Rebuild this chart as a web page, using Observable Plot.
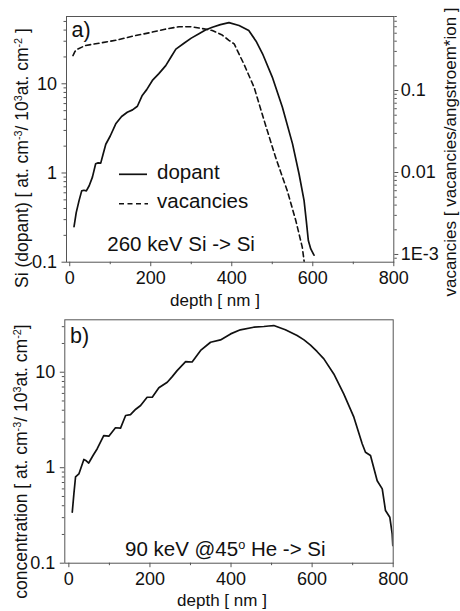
<!DOCTYPE html>
<html><head><meta charset="utf-8">
<script src="https://cdn.jsdelivr.net/npm/d3@7"></script>
<script src="https://cdn.jsdelivr.net/npm/@observablehq/plot@0.6"></script>
<style>
body{margin:0;background:#fff;}
#wrap{position:relative;width:460px;height:611px;overflow:hidden;background:#fff;}
#wrap svg{position:absolute;left:0;}
</style></head><body><div id="wrap"></div>
<script>
// ---- Panel a: 260 keV Si -> Si ----
const depthDopantA = [10.6,16,23,29.5,35,41,48,56,64,70,76.5,82,89,100,113.6,128,142,155,167,179,190,204,220,237,250,262,282,300,319,335,352,372,393,418,442,460,476,500,525,550,566,578.5,584,589,595,603];
const dopantA = [0.25,0.36,0.49,0.63,0.64,0.63,0.72,0.90,1.27,1.30,1.29,1.6,2.1,2.6,3.56,4.3,4.8,5.1,5.6,7.4,8.6,10.9,13,16,20,24.5,28.5,32.5,36.3,40,43,46,48.5,45,39.6,30,21.7,11.9,5.47,2.12,0.98,0.49,0.29,0.175,0.141,0.12];
const depthVacA = [8,13,19,39.5,75,113.6,155,196,235,270,300,319,352,375,393,406,430,455,480,508,537,558,574,579];
const vacanciesA = [0.267,0.30,0.32,0.355,0.38,0.41,0.46,0.506,0.56,0.60,0.60,0.58,0.54,0.48,0.41,0.37,0.21,0.11,0.043,0.0154,0.0060,0.0026,0.00123,0.0008];
// ---- Panel b: 90 keV @45o He -> Si ----
const depthB = [8.4,12.4,16.5,24.7,30,37,43,49,60,70,86,98.6,115,127.5,140,152,165,177,193,205.7,222,242.7,255,267,288,304,325,349.5,374,399,423,456,481,493,505.5,534,563,580,596,612,629,653.5,678,703,723.5,731.6,744,760.5,773,781,791.6,797.5,799];
const concB = [0.342,0.533,0.80,0.86,1.0,1.22,1.18,1.12,1.35,1.58,2.17,2.14,2.62,2.6,3.52,3.6,4.1,4.48,5.47,5.47,6.87,7.86,9.0,10.4,12.9,12.8,16.9,20.6,21.8,25.2,27.8,29.6,30.1,30.5,30.8,27.8,24.2,21.8,19.2,16.5,13.8,9.6,5.94,3.38,1.78,1.45,1.34,0.73,0.60,0.356,0.303,0.203,0.153];
// ---- ticks ----
const xTicks = [0,200,400,600,800];
const xMinorTicks = [100,300,500,700];
const leftTicks = [0.1,1,10];
const leftTickLabels = ["0.1","1","10"];
const rightTicks = [0.001,0.01,0.1];
const rightTickLabels = ["1E-3","0.01","0.1"];

const FRAME = "#555", INK = "#111";
const FONT = '"Liberation Sans", Arial, sans-serif';
const style = {fontFamily: FONT, fontSize: "18px", background: "transparent", overflow: "visible", color: INK};
const minorOf = (dom, majors) => d3.scaleLog().domain(dom).ticks().filter(t => !majors.some(m => Math.abs(m - t) < 1e-12));

const dopData = depthDopantA.map((d, i) => ({depth: d, v: dopantA[i]}));
const vacData = depthVacA.map((d, i) => ({depth: d, v: vacanciesA[i]}));
const bData = depthB.map((d, i) => ({depth: d, v: concB[i]}));

const yDomA = [0.1, 56.8], yDomR = [0.000805, 0.80], yDomB = [0.1, 35.4];

function xAxes() {
  return [
    Plot.axisX({ticks: xTicks, tickSize: 4.5, tickPadding: 5, stroke: FRAME, fill: INK, label: null}),
    Plot.axisX({ticks: xMinorTicks, tickSize: 2.5, stroke: FRAME, fill: "none", label: null})
  ];
}
function yLeftAxes(dom) {
  return [
    Plot.axisY({ticks: leftTicks, tickFormat: d => leftTickLabels[leftTicks.indexOf(d)], tickSize: 4.5, tickPadding: 5, stroke: FRAME, fill: INK, label: null}),
    Plot.axisY({ticks: minorOf(dom, leftTicks), tickSize: 2.5, stroke: FRAME, fill: "none", label: null})
  ];
}

const pa = Plot.plot({
  width: 460, height: 310,
  marginTop: 16, marginBottom: 48.3, marginLeft: 66, marginRight: 66.7,
  style,
  x: {domain: [-8, 800]},
  y: {type: "log", domain: yDomA},
  marks: [
    ...xAxes(),
    ...yLeftAxes(yDomA),
    Plot.line(dopData, {x: "depth", y: "v", stroke: INK, strokeWidth: 1.7, clip: true}),
    Plot.frame({stroke: FRAME})
  ]
});

const pa2 = Plot.plot({
  width: 460, height: 310,
  marginTop: 16, marginBottom: 48.3, marginLeft: 66, marginRight: 66.7,
  style,
  x: {domain: [-8, 800], axis: null},
  y: {type: "log", domain: yDomR},
  marks: [
    Plot.axisY({anchor: "right", ticks: rightTicks, tickFormat: d => rightTickLabels[rightTicks.indexOf(d)], tickSize: 4, tickPadding: 3, stroke: FRAME, fill: INK, label: null}),
    Plot.axisY({anchor: "right", ticks: minorOf(yDomR, rightTicks), tickSize: 2.5, stroke: FRAME, fill: "none", label: null}),
    Plot.line(vacData, {x: "depth", y: "v", stroke: INK, strokeWidth: 1.6, strokeDasharray: "5,3.5", clip: true})
  ]
});

const pb = Plot.plot({
  width: 460, height: 301,
  marginTop: 9.3, marginBottom: 48.3, marginLeft: 64.3, marginRight: 67.3,
  style,
  x: {domain: [-10, 800]},
  y: {type: "log", domain: yDomB},
  marks: [
    ...xAxes(),
    ...yLeftAxes(yDomB),
    Plot.line(bData, {x: "depth", y: "v", stroke: INK, strokeWidth: 1.7, clip: true}),
    Plot.frame({stroke: FRAME})
  ]
});

const wrap = document.getElementById("wrap");
pa.style.top = "0px"; pa2.style.top = "0px"; pb.style.top = "310px";
wrap.appendChild(pa); wrap.appendChild(pa2); wrap.appendChild(pb);

// ---- overlay: titles, annotations, legend ----
const ov = d3.select(wrap).append("svg")
  .attr("width", 460).attr("height", 611)
  .style("top", "0px").style("font-family", FONT).attr("fill", INK);

function rich(sel, parts) {
  parts.forEach(p => {
    const t = sel.append("tspan").text(p[0]);
    if (p[1] === "sup") t.attr("baseline-shift", "super").attr("font-size", "62%");
  });
  return sel;
}

// axis titles
ov.append("text").attr("x", 215).attr("y", 306).attr("text-anchor", "middle").attr("font-size", 17).text("depth [ nm ]");
ov.append("text").attr("x", 222).attr("y", 606).attr("text-anchor", "middle").attr("font-size", 17).text("depth [ nm ]");

rich(ov.append("text").attr("transform", "translate(28.3,158) rotate(-90)").attr("text-anchor", "middle").attr("font-size", 17.5),
  [["Si (dopant) [ at. cm"], ["-3", "sup"], ["/ 10"], ["3", "sup"], ["at. cm"], ["-2", "sup"], [" ]"]]);
rich(ov.append("text").attr("transform", "translate(26.7,461.5) rotate(-90)").attr("text-anchor", "middle").attr("font-size", 17.5),
  [["concentration [ at. cm"], ["-3", "sup"], ["/ 10"], ["3", "sup"], ["at. cm"], ["-2", "sup"], ["]"]]);
ov.append("text").attr("transform", "translate(455.5,152) rotate(-90)").attr("text-anchor", "middle").attr("font-size", 17)
  .text("vacancies [ vacancies/angstroem*ion ]");

// panel labels and annotations
ov.append("text").attr("x", 71.5).attr("y", 36.7).attr("font-size", 21.5).text("a)");
ov.append("text").attr("x", 70).attr("y", 343.3).attr("font-size", 21.5).text("b)");
ov.append("text").attr("x", 107.3).attr("y", 250.7).attr("font-size", 20.5).text("260 keV Si -> Si");
rich(ov.append("text").attr("x", 125).attr("y", 555.7).attr("font-size", 20.5),
  [["90 keV @45"], ["o", "sup"], [" He -> Si"]]);

// legend
ov.append("line").attr("x1", 119).attr("x2", 147).attr("y1", 174.3).attr("y2", 174.3).attr("stroke", INK).attr("stroke-width", 1.7);
ov.append("line").attr("x1", 119).attr("x2", 148).attr("y1", 203.7).attr("y2", 203.7).attr("stroke", INK).attr("stroke-width", 1.6).attr("stroke-dasharray", "5,3.5");
ov.append("text").attr("x", 157).attr("y", 179.3).attr("font-size", 20.5).text("dopant");
ov.append("text").attr("x", 157).attr("y", 208.3).attr("font-size", 20.5).text("vacancies");
</script></body></html>
